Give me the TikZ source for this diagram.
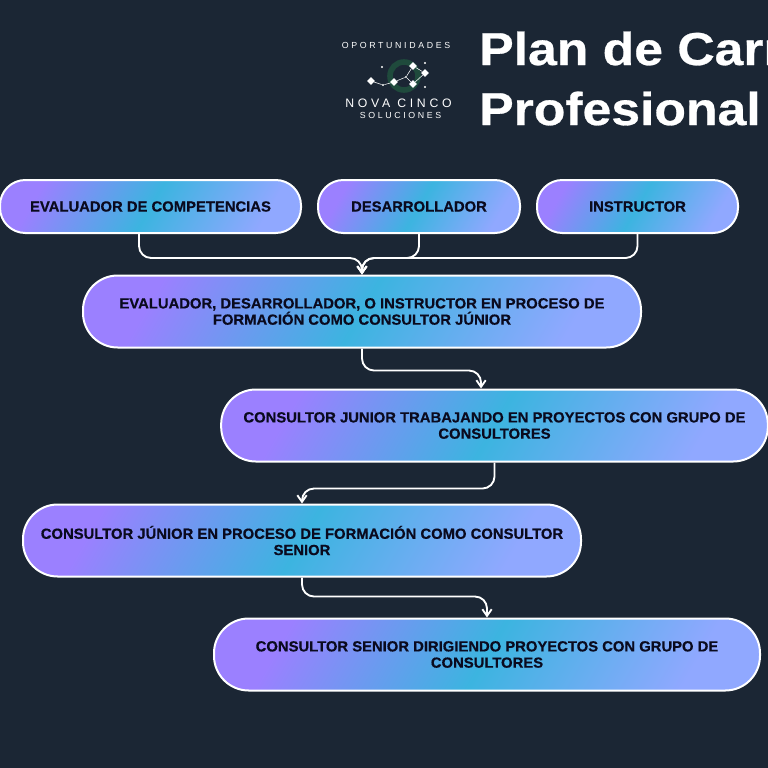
\documentclass[tikz,border=0pt]{standalone}
\usepackage{fontspec}
\setmainfont{Liberation Sans}
\newfontfamily\titlefont[FakeStretch=1.12,BoldFeatures={FakeBold=0.6}]{Liberation Sans}
\newfontfamily\boxfont[FakeStretch=1.01,BoldFeatures={FakeBold=0.5}]{Liberation Sans}
\newfontfamily\logofont[LetterSpace=30]{Liberation Sans}
\usetikzlibrary{arrows.meta,positioning,shapes.geometric}
\definecolor{planbg}{HTML}{1B2634}
\definecolor{planpurple}{HTML}{9B80FF}
\definecolor{planblue}{HTML}{3CB4E0}
\definecolor{planlight}{HTML}{90A8FF}
\definecolor{planink}{HTML}{0A0A1E}
\definecolor{planring}{HTML}{1F4A3C}
\tikzset{
  planbox/.style={
    rounded corners=26pt,
    draw=white,
    line width=1.5pt,
    left color=planpurple,
    right color=planlight,
    middle color=planblue,
    shading angle=60,
    text=planink,
    align=center,
    inner sep=0pt,
    font=\boxfont\bfseries\fontsize{11pt}{12.2pt}\selectfont
  },
  smallbox/.style={
    planbox,
    rounded corners=19pt,
    minimum height=39.75pt
  },
  widebox/.style={
    planbox,
    minimum height=54pt
  },
  link/.style={
    -{Straight Barb[length=5pt,width=7pt]},
    rounded corners=9pt,
    line width=1.4pt,
    draw=white
  },
  spark/.style={
    diamond,
    fill=white,
    inner sep=0pt,
    minimum size=6pt
  },
  speck/.style={
    circle,
    fill=white,
    inner sep=0pt,
    minimum size=1.8pt
  },
  skyline/.style={
    draw=white,
    line width=0.4pt
  },
  heading/.style={
    text=white,
    anchor=base west,
    inner sep=0pt,
    font=\titlefont\bfseries\fontsize{34.6pt}{40pt}\selectfont
  },
  logotext/.style={
    text=white,
    inner sep=0pt,
    font=\logofont
  }
}
\begin{document}
\begin{tikzpicture}[x=0.75pt,y=-0.75pt,node distance=0pt and 11.25pt]
\useasboundingbox[fill=planbg] (0,0) rectangle (768,768);
% logo
\node[circle,draw=planring,line width=4.2pt,minimum size=21pt,inner sep=0pt] (ring) at (404,76) {};
\foreach \sname/\px/\py in {a/371/81,c/394/82,d/413/66,e/425/73,f/413/84}
  \node[spark] (\sname) at (\px,\py) {};
\foreach \sname/\px/\py in {b/383/85,g/406/77,h/382/67,i/425/63,j/425/87}
  \node[speck] (\sname) at (\px,\py) {};
\draw[skyline] (a) -- (b) -- (c) -- (g) -- (d) -- (e) -- (f) -- (g);
\node[logotext,font=\logofont\fontsize{6.6pt}{7pt}\selectfont] (oport) at (396,45) {OPORTUNIDADES};
\node[logotext,font=\logofont\fontsize{9.2pt}{10pt}\selectfont] (nova) at (398.5,103) {NOVA CINCO};
\node[logotext,font=\logofont\fontsize{6.6pt}{7pt}\selectfont] (soluc) at (400.5,115) {SOLUCIONES};
% title
\node[heading] (title) at (479,65) {Plan de Carr};
\node[heading] (subtitle) at (479,125) {Profesional};
% boxes
\node[smallbox,minimum width=225.75pt] (eval) at (150.5,206.5) {EVALUADOR DE COMPETENCIAS};
\node[smallbox,minimum width=151.5pt,right=of eval] (dev) {DESARROLLADOR};
\node[smallbox,minimum width=150.75pt,right=of dev] (inst) {INSTRUCTOR};
\node[widebox,minimum width=418.5pt] (form) at (362,311.5) {EVALUADOR, DESARROLLADOR, O INSTRUCTOR EN PROCESO DE\\FORMACIÓN COMO CONSULTOR JÚNIOR};
\node[widebox,minimum width=410pt] (work) at (494.5,425.5) {CONSULTOR JUNIOR TRABAJANDO EN PROYECTOS CON GRUPO DE\\CONSULTORES};
\node[widebox,minimum width=418.5pt] (train) at (302,540.5) {CONSULTOR JÚNIOR EN PROCESO DE FORMACIÓN COMO CONSULTOR\\SENIOR};
\node[widebox,minimum width=409.5pt] (senior) at (487,654.5) {CONSULTOR SENIOR DIRIGIENDO PROYECTOS CON GRUPO DE\\CONSULTORES};
% connectors
\coordinate (join) at (362,258);
\draw[link] ([xshift=-8.6pt]eval.south) |- (join) -- (form.north);
\draw[link] (dev.south) |- (join) -- (form.north);
\draw[link] (inst.south) |- (join) -- (form.north);
\draw[link] (form.south) -- ++(0,22) -| ([xshift=-10.1pt]work.north);
\draw[link] (work.south) -- ++(0,26) -| (train.north);
\draw[link] (train.south) -- ++(0,19) -| (senior.north);
\end{tikzpicture}
\end{document}
